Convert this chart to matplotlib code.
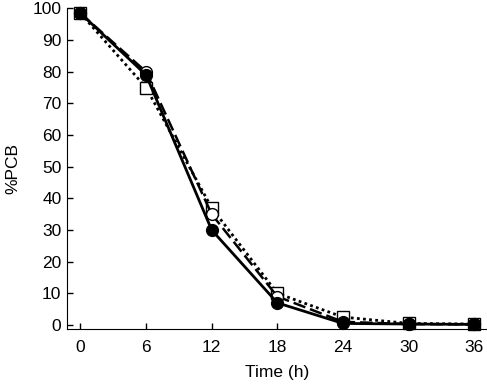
import matplotlib
matplotlib.use('Agg')
import matplotlib.pyplot as plt

plt.rcParams['font.family'] = ['Liberation Sans', 'DejaVu Sans']

time_h = [0, 6, 12, 18, 24, 30, 36]
filled_circle = [98.5, 79, 30, 7, 0.5, 0.3, 0.2]
open_circle = [98.5, 80, 35, 9, 1.0, 0.3, 0.2]
open_square = [98.5, 75, 37, 10, 2.5, 0.5, 0.3]

fig = plt.figure(figsize=(4.87, 3.85), dpi=100)
# axes box in pixel terms: left spine x=67, bottom spine y=329, top y=8.5
ax = fig.add_axes([67 / 487, 1 - 329.3 / 385, 420 / 487, 320.8 / 385])

ax.plot(time_h, open_square, color='black', linestyle=(0, (1, 1.2)), lw=2,
        marker='s', markersize=8, markerfacecolor='white', markeredgecolor='black',
        zorder=2, clip_on=False)
ax.plot(time_h, open_circle, color='black', linestyle=(0, (5, 2)), lw=1.8,
        marker='o', markersize=8.5, markerfacecolor='white', markeredgecolor='black',
        zorder=3, clip_on=False)
ax.plot(time_h, filled_circle, color='black', linestyle='-', lw=2,
        marker='o', markersize=8.5, markerfacecolor='black', markeredgecolor='black',
        zorder=4, clip_on=False)

ax.set_xlim(-1.23, 37.17)
ax.set_ylim(-1.36, 100)
ax.set_xticks(time_h)
ax.set_yticks(range(0, 101, 10))
ax.tick_params(direction='in', length=4, labelsize=12.5, width=1)
ax.tick_params(axis='x', pad=8)
ax.tick_params(axis='y', pad=4)
ax.spines['top'].set_visible(False)
ax.spines['right'].set_visible(False)
ax.set_xlabel('Time (h)', fontsize=12.5, labelpad=7)
ax.set_ylabel('%PCB', fontsize=12.5, labelpad=9)

fig.savefig('out.png', dpi=100)
